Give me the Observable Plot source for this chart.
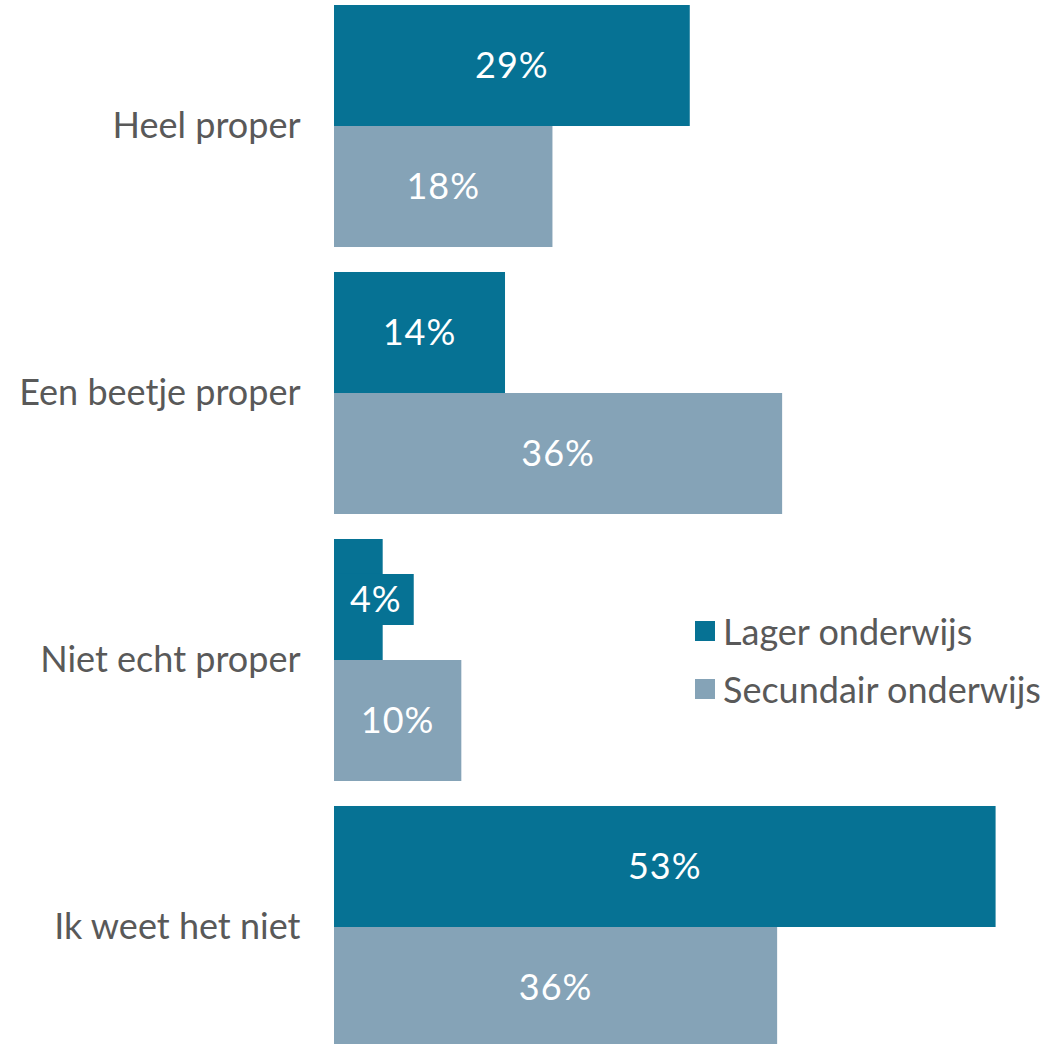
<!DOCTYPE html>
<html>
<head>
<meta charset="utf-8">
<script src="https://cdn.jsdelivr.net/npm/d3@7"></script>
<script src="https://cdn.jsdelivr.net/npm/@observablehq/plot@0.6"></script>
<style>
  html, body { margin: 0; padding: 0; background: #fff; }
  #wrap { position: relative; width: 1061px; height: 1044px; overflow: hidden; font-family: Lato, sans-serif; }
  #legend { position: absolute; left: 695px; top: 609px; color: #595959; font-size: 36px; }
  .item { display: flex; align-items: center; height: 44px; margin-bottom: 13.5px; white-space: nowrap; }
  .sw { width: 20px; height: 20px; margin-right: 8px; flex: none; }
</style>
</head>
<body>
<div id="wrap"></div>
<script>
const categories = ["Heel proper", "Een beetje proper", "Niet echt proper", "Ik weet het niet"];
const series = ["Lager onderwijs", "Secundair onderwijs"];
const lager = [28.5, 13.7, 3.9, 53.0];
const secundair = [17.5, 35.9, 10.2, 35.5];
const colors = ["#067294", "#85a3b7"];

const data = categories.flatMap((c, i) => [
  {category: c, series: series[0], value: lager[i]},
  {category: c, series: series[1], value: secundair[i]}
]);

const FONT = "Lato, sans-serif";
const FS = 36;

function labelRender(index, scales, values, dimensions, context) {
  const ctx = document.createElement("canvas").getContext("2d");
  ctx.font = `${FS}px ${FONT}`;
  const x0 = scales.x(0);
  const bw = Math.abs(scales.y(series[1]) - scales.y(series[0]));
  const g = d3.create("svg:g");
  for (const i of index) {
    const d = data[i];
    const txt = Math.round(d.value) + "%";
    const w = ctx.measureText(txt).width + 26;
    const h = 51;
    let cx = values.x[i];
    const y = values.y[i] + bw / 2;
    const barEnd = scales.x(d.value);
    if (cx - w / 2 < x0) cx = x0 + w / 2 + 4;
    if (cx + w / 2 > barEnd) {
      g.append("rect")
        .attr("x", cx - w / 2).attr("y", y - h / 2)
        .attr("width", w).attr("height", h)
        .attr("fill", colors[series.indexOf(d.series)]);
    }
    g.append("text")
      .attr("x", cx).attr("y", y)
      .attr("text-anchor", "middle")
      .attr("dy", "0.35em")
      .attr("fill", "white")
      .attr("font-size", FS)
      .attr("font-family", FONT)
      .attr("letter-spacing", "1px")
      .text(txt);
  }
  return g.node();
}

const chart = Plot.plot({
  width: 1061,
  height: 1048,
  marginLeft: 334,
  marginRight: 3,
  marginTop: 5,
  marginBottom: 0,
  style: {fontFamily: FONT, fontSize: "36px", color: "#595959", background: "white"},
  facet: {data, y: "category"},
  fy: {domain: categories, paddingInner: 0.0936, paddingOuter: 0, round: false, label: null, tickSize: 0, tickPadding: 34, axis: "left"},
  x: {domain: [0, 58], axis: null},
  y: {domain: series, padding: 0, round: false, axis: null},
  color: {domain: series, range: colors},
  marks: [
    Plot.barX(data, {y: "series", x: "value", fill: "series"}),
    Plot.text(data, {y: "series", x: d => d.value / 2, text: d => Math.round(d.value) + "%", render: labelRender})
  ]
});

const wrap = document.getElementById("wrap");
wrap.appendChild(chart);

const legend = document.createElement("div");
legend.id = "legend";
series.forEach((s, i) => {
  const item = document.createElement("div");
  item.className = "item";
  const sw = document.createElement("div");
  sw.className = "sw";
  sw.style.background = colors[i];
  const lab = document.createElement("span");
  lab.textContent = s;
  item.appendChild(sw);
  item.appendChild(lab);
  legend.appendChild(item);
});
wrap.appendChild(legend);
</script>
</body>
</html>
